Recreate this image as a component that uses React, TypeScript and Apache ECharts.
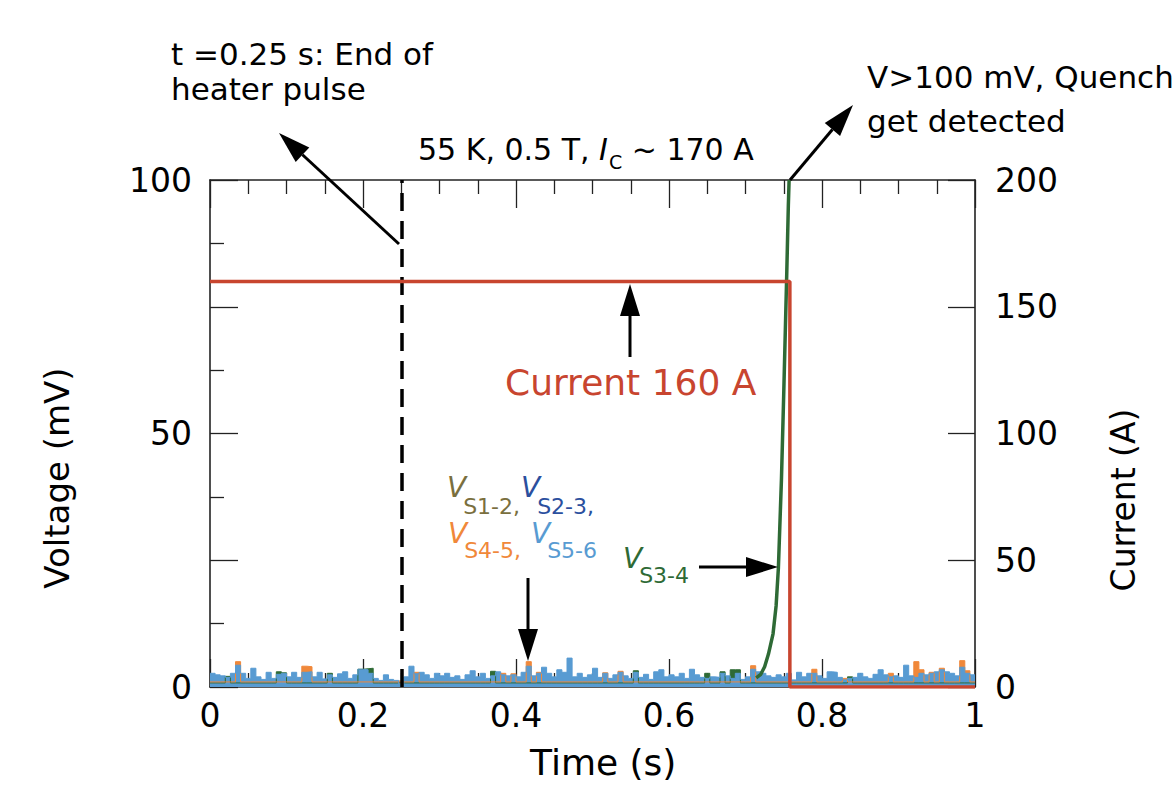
import React, { useEffect, useRef } from 'react';
import * as echarts from 'echarts';

// ---- data ----
const SAMPLE_DT = 1 / 150; // s between noise samples

// V_S5-6 (light blue) noise, mV
const vS56 = [
  2.7, 2.4, 2.2, 1.9, 2.7, 4.3, 2.7, 1.7, 3.7, 2.0,
  1.5, 2.9, 1.7, 2.5, 2.7, 2.0, 2.9, 1.9, 2.9, 3.0,
  2.0, 2.9, 1.6, 2.4, 1.9, 2.6, 3.0, 1.7, 2.4, 3.5,
  3.4, 2.7, 1.7, 1.3, 2.4, 1.5, 1.3, 0.6, 2.0, 4.1,
  2.6, 2.9, 2.4, 1.7, 2.7, 2.2, 2.7, 1.9, 2.2, 1.5,
  2.4, 3.2, 2.0, 2.7, 1.7, 2.2, 3.0,
  2.4, 2.2, 2.4, 2.0, 2.9, 4.1, 2.2, 2.7, 3.9, 2.7,
  2.0, 3.4, 2.9, 5.7, 2.0, 2.7, 1.9, 2.4, 3.7, 1.9,
  2.7, 1.7, 2.4, 2.9, 2.2, 1.7, 2.9, 1.9, 2.5, 1.5,
  3.0, 3.4, 2.0, 2.4, 2.0, 2.7, 1.7, 3.5, 2.4, 1.9,
  1.7, 2.0, 1.9, 2.7, 2.2, 1.7, 2.7, 1.5, 2.0, 3.5,
  3.0, 2.7, 2.2, 1.9, 2.4, 2.0, 2.7, 1.4,
  2.9, 2.0, 2.7, 2.7, 2.2, 1.7, 3.0, 2.9, 1.9, 1.4,
  1.7, 1.9, 2.7, 2.0, 1.7, 2.5, 3.4, 2.4, 2.0, 2.2,
  1.9, 4.3, 2.2, 1.9, 2.7, 2.4, 2.7, 3.0, 3.4, 3.0,
  2.7, 2.2, 3.9, 2.7, 2.4,
];

// V_S4-5 (orange) noise, mV
const vS45 = [
  1.0, 1.0, 1.0, 1.0, 1.0, 5.0, 1.0, 1.0, 1.0, 1.0,
  1.0, 1.0, 1.0, 1.0, 1.0, 1.0, 1.0, 1.0, 4.1, 4.0,
  1.0, 1.0, 1.0, 1.0, 1.0, 1.0, 1.0, 1.0, 1.0, 1.0,
  1.0, 1.0, 1.0, 1.0, 1.0, 1.0, 1.0, 1.2, 1.0, 1.0,
  2.9, 1.0, 1.0, 1.0, 1.0, 1.0, 1.0, 1.0, 1.0, 1.0,
  1.0, 1.0, 1.0, 1.0, 1.0, 1.0, 1.0, 2.7, 1.0, 2.6,
  1.0, 1.0, 5.0, 1.0, 2.9, 1.0, 1.0, 1.0, 1.0, 1.0,
  1.0, 1.0, 1.0, 1.0, 1.0, 1.0, 1.0, 2.8, 1.0, 1.0,
  3.1, 1.0, 1.0, 1.0, 1.0, 1.0, 1.0, 1.0, 1.0, 1.0,
  1.0, 1.0, 1.0, 1.0, 1.0, 1.0, 1.0, 1.0, 1.0, 1.0,
  1.0, 1.0, 1.0, 1.0, 1.0, 1.0, 4.2, 1.0, 1.0, 1.0,
  1.0, 1.0, 1.0, 1.0, 1.0, 1.0, 1.0, 1.0, 3.5, 1.0,
  1.0, 1.0, 1.0, 1.0, 1.7, 1.0, 1.0, 1.0, 1.0, 1.0,
  1.0, 1.0, 1.0, 2.7, 1.0, 1.0, 1.0, 1.0, 5.0, 3.4,
  1.0, 2.9, 1.0, 3.7, 1.0, 1.0, 1.0, 5.2, 3.2, 1.0,
];

// V_S3-4 (green) noise before/after the quench, mV
const vS34Noise = [
  0.8, 0.8, 0.8, 2.1, 0.8, 0.8, 0.8, 0.8, 0.8, 0.8,
  0.8, 0.8, 0.8, 3.0, 2.8, 0.8, 0.8, 0.8, 0.8, 0.8,
  0.8, 0.8, 0.8, 2.7, 0.8, 0.8, 0.8, 0.8, 0.8, 3.5,
  3.6, 3.7, 0.8, 0.8, 0.8, 0.8, 0.8, 0.8, 0.8, 0.8,
  0.8, 0.8, 0.8, 0.8, 0.8, 0.8, 0.8, 0.8, 0.8, 0.8,
  0.8, 0.8, 0.8, 0.8, 0.8, 3.1, 0.8, 0.8, 0.8, 0.8,
  0.8, 0.8, 0.8, 0.8, 0.8, 0.8, 0.8, 0.8, 0.8, 0.8,
  0.8, 0.8, 0.8, 0.8, 0.8, 0.8, 0.8, 0.8, 0.8, 0.8,
  0.8, 0.8, 0.8, 3.2, 0.8, 0.8, 0.8, 0.8, 0.8, 0.8,
  0.8, 0.8, 0.8, 0.8, 0.8, 0.8, 0.8, 2.7, 0.8, 0.8,
  3.0, 0.8, 3.4, 3.4, 0.8, 0.8, 0.8, 0.8, 0.8, 0.8,
  0.8, 0.8, 0.8, 0.8, 0.8, 0.8, 0.8, 0.8, 0.8, 0.8,
  0.8, 0.8, 0.8, 0.8, 0.8, 2.0, 0.8, 0.8, 0.8, 0.8,
  0.8, 0.8, 0.8, 0.8, 0.8, 0.8, 0.8, 0.8, 0.8, 0.8,
  0.8, 0.8, 0.8, 0.8, 0.8, 0.8, 0.8, 0.8, 0.8, 0.8,
];

// V_S3-4 quench rise
const riseT = [0.714, 0.72, 0.725, 0.73, 0.736, 0.74, 0.743, 0.747, 0.75, 0.752, 0.754, 0.756, 0.757];
const riseV = [1.8, 2.5, 4.0, 6.5, 10.5, 16, 23.5, 41, 58, 70, 82, 95, 100];

// Current (A)
const currentT = [0, 0.758, 0.758, 1];
const currentA = [160, 160, 0, 0];

const heaterEndT = 0.25;

// ---- styling ----
const FONT = 'DejaVu Sans';
const BLUE = '#589bd2';
const ORANGE = '#f0883a';
const GREEN = '#2e6a35';
const RED = '#c8452f';
const OLIVE = '#7a6f3e';
const DBLUE = '#2b4f9e';
const AX = '#222';

function measure(text: string, size: number, italic?: boolean) {
  const ctx = document.createElement('canvas').getContext('2d')!;
  ctx.font = `${italic ? 'italic ' : ''}${size}px "${FONT}"`;
  return ctx.measureText(text).width;
}

type Piece = { text: string; size: number; color: string; italic?: boolean; base: number; kern?: number };

function seq(x: number, pieces: Piece[]) {
  const out: any[] = [];
  let cx = x;
  for (const p of pieces) {
    out.push({
      type: 'text',
      x: cx,
      y: p.base - 0.34 * p.size,
      z: 100,
      style: {
        text: p.text,
        fill: p.color,
        fontSize: p.size,
        fontFamily: FONT,
        fontStyle: p.italic ? 'italic' : 'normal',
        align: 'left',
        verticalAlign: 'middle',
      },
    });
    cx += measure(p.text, p.size, p.italic) + (p.kern || 0);
  }
  return out;
}

function vname(text: string, cx: number, cy: number, size: number) {
  return {
    type: 'text',
    x: cx,
    y: cy,
    rotation: Math.PI / 2,
    z: 100,
    style: {
      text,
      fill: '#000',
      fontSize: size,
      fontFamily: FONT,
      align: 'center',
      verticalAlign: 'middle',
    },
  };
}

function arrow(x1: number, y1: number, x2: number, y2: number) {
  const L = 32;
  const W = 10;
  const dx = x2 - x1;
  const dy = y2 - y1;
  const len = Math.sqrt(dx * dx + dy * dy);
  const ux = dx / len;
  const uy = dy / len;
  const bx = x2 - ux * L;
  const by = y2 - uy * L;
  const px = -uy;
  const py = ux;
  return {
    type: 'group',
    z: 100,
    children: [
      { type: 'line', z: 100, shape: { x1, y1, x2: bx, y2: by }, style: { stroke: '#000', lineWidth: 3 } },
      {
        type: 'polygon',
        z: 100,
        shape: { points: [[x2, y2], [bx + px * W, by + py * W], [bx - px * W, by - py * W]] },
        style: { fill: '#000' },
      },
    ],
  };
}

const toSteps = (vals: number[]) => {
  const d = vals.map((v, i) => [i * SAMPLE_DT, v]);
  d.push([1, vals[vals.length - 1]]);
  return d;
};

export default function App() {
  const ref = useRef<HTMLDivElement>(null);
  useEffect(() => {
    if (!ref.current) return;
    const chart = echarts.init(ref.current, undefined, { renderer: 'svg' });

    const tickLabel = { fontSize: 33, fontFamily: FONT, color: '#000' };
    const axisLine = { show: true, onZero: false, lineStyle: { color: AX, width: 1.6 } };
    const tick = (len: number) => ({ show: true, inside: true, length: len, lineStyle: { color: AX, width: 1.3 } });
    const minor = (n: number) => ({ show: true, splitNumber: n, length: 14, lineStyle: { color: AX, width: 1.3 } });

    const graphics: any[] = [
      ...seq(171, [{ text: 't =0.25 s: End of', size: 31, color: '#000', base: 65 }]),
      ...seq(171, [{ text: 'heater pulse', size: 31, color: '#000', base: 100 }]),
      ...seq(418, [
        { text: '55 K, 0.5 T, ', size: 30, color: '#000', base: 160 },
        { text: 'I', size: 30, color: '#000', base: 160, italic: true, kern: 1 },
        { text: 'C', size: 19, color: '#000', base: 168 },
        { text: ' ~ 170 A', size: 30, color: '#000', base: 160 },
      ]),
      ...seq(867, [{ text: 'V>100 mV, Quench', size: 31, color: '#000', base: 88 }]),
      ...seq(867, [{ text: 'get detected', size: 31, color: '#000', base: 132 }]),
      ...seq(505, [{ text: 'Current 160 A', size: 36, color: RED, base: 395 }]),
      ...seq(447, [
        { text: 'V', size: 28, color: OLIVE, base: 497, italic: true, kern: -3 },
        { text: 'S1-2,', size: 22, color: OLIVE, base: 514 },
      ]),
      ...seq(521, [
        { text: 'V', size: 28, color: DBLUE, base: 497, italic: true, kern: -3 },
        { text: 'S2-3,', size: 22, color: DBLUE, base: 514 },
      ]),
      ...seq(448, [
        { text: 'V', size: 28, color: ORANGE, base: 543, italic: true, kern: -3 },
        { text: 'S4-5,', size: 22, color: ORANGE, base: 558 },
      ]),
      ...seq(531, [
        { text: 'V', size: 28, color: BLUE, base: 543, italic: true, kern: -3 },
        { text: 'S5-6', size: 22, color: BLUE, base: 558 },
      ]),
      ...seq(623, [
        { text: 'V', size: 28, color: GREEN, base: 568, italic: true, kern: -3 },
        { text: 'S3-4', size: 22, color: GREEN, base: 583 },
      ]),
      vname('Voltage (mV)', 57, 478, 34),
      vname('Current (A)', 1123, 500, 33),
      ...seq(530, [{ text: 'Time (s)', size: 36, color: '#000', base: 775 }]),
      arrow(399, 244, 279, 133),
      arrow(790, 180, 853, 105),
      arrow(630, 357, 630, 284),
      arrow(528, 578, 528, 661),
      arrow(699, 567, 778, 567),
    ];

    chart.setOption({
      animation: false,
      backgroundColor: '#fff',
      grid: { left: 210, right: 198, top: 180, bottom: 122 },
      xAxis: [
        {
          type: 'value',
          min: 0,
          max: 1,
          interval: 0.2,
          position: 'bottom',
          axisLine,
          axisTick: tick(28),
          minorTick: minor(4),
          splitLine: { show: false },
          axisLabel: { ...tickLabel, margin: 12 },
        },
        {
          type: 'value',
          min: 0,
          max: 1,
          interval: 0.2,
          position: 'top',
          axisLine,
          axisTick: tick(28),
          minorTick: minor(4),
          splitLine: { show: false },
          axisLabel: { show: false },
        },
      ],
      yAxis: [
        {
          type: 'value',
          min: 0,
          max: 100,
          interval: 25,
          position: 'left',
          axisLine,
          axisTick: tick(28),
          minorTick: minor(2),
          splitLine: { show: false },
          axisLabel: { ...tickLabel, margin: 18, formatter: (v: number) => (v % 50 === 0 ? String(v) : '') },
        },
        {
          type: 'value',
          min: 0,
          max: 200,
          interval: 50,
          position: 'right',
          axisLine,
          axisTick: tick(27),
          splitLine: { show: false },
          axisLabel: { ...tickLabel, margin: 20 },
        },
      ],
      series: [
        {
          name: 'V_S3-4 noise',
          type: 'line',
          step: 'end',
          data: toSteps(vS34Noise),
          symbol: 'none',
          lineStyle: { width: 1, color: GREEN },
          areaStyle: { color: GREEN, opacity: 1 },
          z: 2,
        },
        {
          name: 'V_S4-5',
          type: 'line',
          step: 'end',
          data: toSteps(vS45),
          symbol: 'none',
          lineStyle: { width: 1, color: ORANGE },
          areaStyle: { color: ORANGE, opacity: 1 },
          z: 2,
        },
        {
          name: 'V_S5-6',
          type: 'line',
          step: 'end',
          data: toSteps(vS56),
          symbol: 'none',
          lineStyle: { width: 1, color: BLUE },
          areaStyle: { color: BLUE, opacity: 1 },
          z: 2,
        },
        {
          name: 'V_S3-4',
          type: 'line',
          data: riseT.map((t, i) => [t, riseV[i]]),
          symbol: 'none',
          lineStyle: { width: 3.5, color: GREEN },
          z: 4,
        },
        {
          name: 'Current',
          type: 'line',
          yAxisIndex: 1,
          data: currentT.map((t, i) => [t, currentA[i]]),
          symbol: 'none',
          lineStyle: { width: 3.5, color: RED },
          z: 5,
          markLine: {
            silent: true,
            symbol: ['none', 'none'],
            label: { show: false },
            lineStyle: { color: '#000', width: 3.5, type: [18, 10] },
            data: [{ xAxis: heaterEndT }],
          },
        },
      ],
      graphic: graphics,
    });
    return () => chart.dispose();
  }, []);
  return <div ref={ref} style={{ position: 'fixed', left: 0, top: 0, width: 1173, height: 809 }} />;
}
